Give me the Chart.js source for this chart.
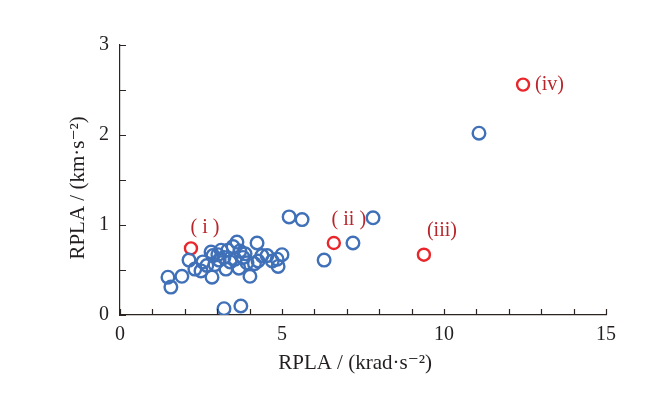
<!DOCTYPE html>
<html>
<head>
<meta charset="utf-8">
<script src="https://cdn.jsdelivr.net/npm/chart.js@4"></script>
<style>
  html, body { margin: 0; padding: 0; background: #fff; }
  #wrap { width: 659px; height: 399px; }
</style>
</head>
<body>
<div id="wrap"><canvas id="rplaChart" width="659" height="399"></canvas></div>
<script>
// Podaci: RPLA (krad·s^-2) vs RPLA (km·s^-2)
const blueX = [1.48, 1.57, 1.91, 2.13, 2.31, 2.50, 2.56, 2.81, 2.84, 2.87, 2.93, 3.06, 3.12, 3.21, 3.27, 3.33,
  3.40, 3.49, 3.61, 3.70, 3.67, 3.80, 3.92, 4.01, 4.23, 4.26, 4.38, 4.54, 4.85, 4.88, 5.00,
  2.68, 3.02, 3.55, 3.86, 4.15, 4.70,
  3.21, 3.73, 5.22, 5.62, 6.30, 7.19, 7.81, 11.08];
const blueY = [0.42, 0.31, 0.43, 0.61, 0.51, 0.49, 0.59, 0.70, 0.42, 0.66, 0.56, 0.61, 0.72, 0.64, 0.51, 0.72,
  0.59, 0.76, 0.81, 0.71, 0.52, 0.64, 0.58, 0.43, 0.80, 0.60, 0.66, 0.66, 0.62, 0.54, 0.67,
  0.55, 0.67, 0.62, 0.68, 0.57, 0.60,
  0.07, 0.10, 1.09, 1.06, 0.61, 0.80, 1.08, 2.02];
const redX = [2.19, 6.60, 9.38, 12.44];
const redY = [0.74, 0.80, 0.67, 2.56];
const redLabels = ['( i )', '( ii )', '(iii)', '(iv)'];
const xTicks = [0, 5, 10, 15];
const yTicks = [0, 1, 2, 3];

const axisColor = '#2b2421';
const serif = '"Liberation Serif", "DejaVu Serif", serif';

// pomaci natpisa u pikselima (stil, ne podaci)
const labelOffsets = [[14, -21, 'center'], [15, -23, 'center'], [18, -24, 'center'], [12, 0, 'left']];

const toPoints = (xs, ys) => xs.map((x, i) => ({ x: x, y: ys[i] }));

// Unutarnje crtice na osima i crveni natpisi
const decorPlugin = {
  id: 'decor',
  afterDraw(chart) {
    const c = chart.ctx;
    const xs = chart.scales.x, ys = chart.scales.y;
    const area = chart.chartArea;
    c.save();
    c.strokeStyle = axisColor;
    c.lineWidth = 1.2;
    c.beginPath();
    for (let v = 0; v <= 15; v += 1) {
      const px = Math.round(xs.getPixelForValue(v)) + 0.5;
      c.moveTo(px, area.bottom);
      c.lineTo(px, area.bottom - 6);
    }
    for (let v = 0; v <= 3; v += 0.5) {
      const py = Math.round(ys.getPixelForValue(v)) + 0.5;
      c.moveTo(area.left, py);
      c.lineTo(area.left + 6, py);
    }
    c.stroke();

    c.fillStyle = '#b8262c';
    c.font = '20px ' + serif;
    c.textBaseline = 'middle';
    redLabels.forEach((t, i) => {
      const o = labelOffsets[i];
      c.textAlign = o[2];
      c.fillText(t, xs.getPixelForValue(redX[i]) + o[0], ys.getPixelForValue(redY[i]) + o[1]);
    });
    c.restore();
  }
};

const ctx = document.getElementById('rplaChart').getContext('2d');
const rplaChart = new Chart(ctx, {
  type: 'scatter',
  data: {
    datasets: [{
      label: 'ostali',
      data: toPoints(blueX, blueY),
      borderColor: '#3f70b8',
      backgroundColor: 'rgba(255,255,255,0)',
      borderWidth: 2.4,
      pointRadius: 6.3
    }, {
      label: 'istaknuti',
      data: toPoints(redX, redY),
      borderColor: '#e8262b',
      backgroundColor: 'rgba(255,255,255,0)',
      borderWidth: 2.4,
      pointRadius: 6
    }]
  },
  options: {
    responsive: false,
    animation: false,
    layout: { padding: { top: 45, right: 53, left: 0, bottom: 0 } },
    plugins: { legend: { display: false }, tooltip: { enabled: false } },
    scales: {
      x: {
        type: 'linear',
        min: 0, max: 15,
        afterBuildTicks: s => { s.ticks = xTicks.map(v => ({ value: v })); },
        afterFit: s => { s.height = 84; },
        grid: { display: false, drawTicks: false },
        border: { display: true, color: axisColor, width: 1.2 },
        ticks: { color: '#231f20', font: { family: serif, size: 20 }, padding: 8, maxRotation: 0 },
        title: {
          display: true,
          text: 'RPLA / (krad·s⁻²)\u00a0\u00a0\u00a0',
          color: '#231f20',
          font: { family: serif, size: 21 },
          padding: { top: 0, bottom: 23 }
        }
      },
      y: {
        type: 'linear',
        min: 0, max: 3,
        afterBuildTicks: s => { s.ticks = yTicks.map(v => ({ value: v })); },
        afterFit: s => { s.width = 120; },
        grid: { display: false, drawTicks: false },
        border: { display: true, color: axisColor, width: 1.2 },
        ticks: { color: '#231f20', font: { family: serif, size: 20 }, padding: 11 },
        title: {
          display: true,
          text: 'RPLA / (km·s⁻²)\u00a0\u00a0\u00a0',
          color: '#231f20',
          font: { family: serif, size: 21 },
          padding: { top: 66, bottom: 0 }
        }
      }
    }
  },
  plugins: [decorPlugin]
});
</script>
</body>
</html>
